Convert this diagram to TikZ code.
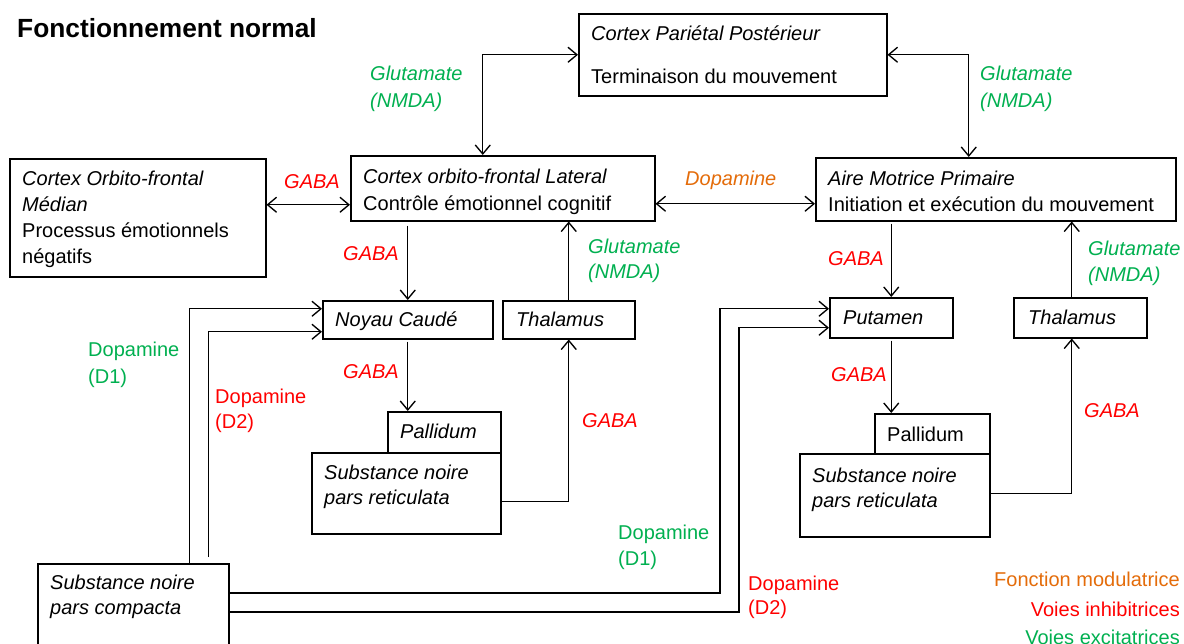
\documentclass[tikz,border=0pt]{standalone}
\usepackage{fontspec}
\setmainfont{Liberation Sans}
\usetikzlibrary{arrows.meta}
\definecolor{vgreen}{RGB}{0,176,80}
\definecolor{vred}{RGB}{255,0,0}
\definecolor{vorange}{RGB}{228,108,10}
\begin{document}
\begin{tikzpicture}[x=1pt,y=-1pt,
  box/.style={draw, line width=1.5pt, inner sep=0pt, anchor=north west},
  txt/.style={inner sep=0pt, anchor=base west, font=\fontsize{20}{24}\selectfont},
  itx/.style={txt, font=\fontsize{20}{24}\selectfont\itshape},
  gaba/.style={itx, text=vred},
  glu/.style={itx, text=vgreen},
  arr/.style={line width=1.35pt, -{Straight Barb[length=9pt,width=15pt,line width=1.35pt]}},
  bi/.style={line width=1.35pt, {Straight Barb[length=9pt,width=15pt,line width=1.35pt]}-{Straight Barb[length=9pt,width=15pt,line width=1.35pt]}}]
\useasboundingbox[fill=white] (0,0) rectangle (1184,643);

% title
\node[inner sep=0pt, anchor=base west, font=\fontsize{26.3}{30}\selectfont\bfseries] (title) at (17,37) {Fonctionnement normal};

% boxes
\node[box, minimum width=308pt, minimum height=82pt] (cpp) at (578,13) {};
\node[box, minimum width=256pt, minimum height=118pt] (cofm) at (9,158) {};
\node[box, minimum width=304pt, minimum height=65pt] (cofl) at (350,155) {};
\node[box, minimum width=360pt, minimum height=63pt] (amp) at (815,157) {};
\node[box, minimum width=170pt, minimum height=38pt] (noyau) at (322,300) {};
\node[box, minimum width=132pt, minimum height=38pt] (thalL) at (502,300) {};
\node[box, minimum width=113pt, minimum height=41pt] (pallL) at (387,411) {};
\node[box, minimum width=189pt, minimum height=81pt] (snrL) at (311,452) {};
\node[box, minimum width=191pt, minimum height=100pt] (snc) at (37,563) {};
\node[box, minimum width=123pt, minimum height=40pt] (putamen) at (829,297) {};
\node[box, minimum width=133pt, minimum height=40pt] (thalR) at (1013,297) {};
\node[box, minimum width=115pt, minimum height=40pt] (pallR) at (874,413) {};
\node[box, minimum width=190pt, minimum height=83pt] (snrR) at (799,453) {};

% box texts
\node[itx] (t-cpp1) at (591,40) {Cortex Pariétal Postérieur};
\node[txt] (t-cpp2) at (591,83) {Terminaison du mouvement};
\node[itx] (t-cofl1) at (363,183) {Cortex orbito-frontal Lateral};
\node[txt] (t-cofl2) at (363,210) {Contrôle émotionnel cognitif};
\node[itx] (t-cofm1) at (22,185) {Cortex Orbito-frontal};
\node[itx] (t-cofm2) at (22,211) {Médian};
\node[txt] (t-cofm3) at (22,237) {Processus émotionnels};
\node[txt] (t-cofm4) at (22,263) {négatifs};
\node[itx] (t-amp1) at (828,185) {Aire Motrice Primaire};
\node[txt] (t-amp2) at (828,211) {Initiation et exécution du mouvement};
\node[itx] (t-noyau) at (335,326) {Noyau Caudé};
\node[itx] (t-thalL) at (516,326) {Thalamus};
\node[itx] (t-pallL) at (400,438) {Pallidum};
\node[itx] (t-snrL1) at (324,479) {Substance noire};
\node[itx] (t-snrL2) at (324,504) {pars reticulata};
\node[itx] (t-snc1) at (50,589) {Substance noire};
\node[itx] (t-snc2) at (50,614) {pars compacta};
\node[itx] (t-put) at (843,324) {Putamen};
\node[itx] (t-thalR) at (1028,324) {Thalamus};
\node[txt] (t-pallR) at (887,441) {Pallidum};
\node[itx] (t-snrR1) at (812,482) {Substance noire};
\node[itx] (t-snrR2) at (812,507) {pars reticulata};

% helper coordinates
\path ([yshift=-16.5pt]cofl.west) coordinate (c3);
\path ([yshift=-15.5pt]cofl.east) coordinate (c4);
\path ([yshift=-8.5pt]snrL.east) coordinate (c8);
\path ([xshift=56.5pt]snc.north) coordinate (c9a);
\path ([yshift=11pt]noyau.west) coordinate (c9b);
\path ([xshift=75.5pt,yshift=6pt]snc.north) coordinate (c10a);
\path ([yshift=-12pt]noyau.west) coordinate (c10b);
\path ([yshift=-30pt]snc.north east) coordinate (c11a);
\path ([yshift=9pt]putamen.west) coordinate (c11b);
\path ([xshift=-109pt]c11b) coordinate (c11c);
\path ([yshift=-49pt]snc.north east) coordinate (c12a);
\path ([yshift=-10pt]putamen.west) coordinate (c12b);
\path ([xshift=-90pt]c12b) coordinate (c12c);
\path ([xshift=-8.5pt]thalR.north) coordinate (c14);
\path ([yshift=1.5pt]snrR.east) coordinate (c16);

% connectors
\draw[bi] (cpp.west) -| ([xshift=-20pt]cofl.north);
\draw[bi] (cpp.east) -| ([xshift=-27pt]amp.north);
\draw[bi] (c3) -- (c3 -| cofm.east);
\draw[bi] (c4) -- (c4 -| amp.west);
\draw[arr, shorten <=4pt] (cofl.south -| noyau.north) -- (noyau.north);
\draw[arr] (thalL.north) -- (thalL.north |- cofl.south);
\draw[arr, shorten <=2pt] (noyau.south) -- (noyau.south |- pallL.north);
\draw[arr] (c8) -| (thalL.south);
\draw[arr] (c9a) |- (c9b);
\draw[arr] (c10a) |- (c10b);
\draw[arr] (c11a) -| (c11c) -- (c11b);
\draw[arr] (c12a) -| (c12c) -- (c12b);
\draw[arr, shorten <=2pt] (amp.south -| putamen.north) -- (putamen.north);
\draw[arr] (c14) -- (c14 |- amp.south);
\draw[arr, shorten <=2pt] (putamen.south) -- (putamen.south |- pallR.north);
\draw[arr] (c16) -| ([xshift=-8.5pt]thalR.south);

% connector labels
\node[glu] (l1a) at (370,80) {Glutamate};
\node[glu] (l1b) at (370,107) {(NMDA)};
\node[glu] (l2a) at (980,80) {Glutamate};
\node[glu] (l2b) at (980,107) {(NMDA)};
\node[gaba] (l3) at (284,188) {GABA};
\node[itx, text=vorange] (l4) at (685,185) {Dopamine};
\node[gaba] (l5) at (343,260) {GABA};
\node[glu] (l6a) at (588,253) {Glutamate};
\node[glu] (l6b) at (588,278) {(NMDA)};
\node[gaba] (l7) at (343,378) {GABA};
\node[gaba] (l8) at (582,427) {GABA};
\node[txt, text=vgreen] (l9a) at (88,356) {Dopamine};
\node[txt, text=vgreen] (l9b) at (88,383) {(D1)};
\node[txt, text=vred] (l10a) at (215,403) {Dopamine};
\node[txt, text=vred] (l10b) at (215,428) {(D2)};
\node[gaba] (l13) at (828,265) {GABA};
\node[glu] (l14a) at (1088,255) {Glutamate};
\node[glu] (l14b) at (1088,281) {(NMDA)};
\node[gaba] (l15) at (831,381) {GABA};
\node[gaba] (l16) at (1084,417) {GABA};
\node[txt, text=vgreen] (l11a) at (618,539) {Dopamine};
\node[txt, text=vgreen] (l11b) at (618,565) {(D1)};
\node[txt, text=vred] (l12a) at (748,590) {Dopamine};
\node[txt, text=vred] (l12b) at (748,614) {(D2)};

% legend
\node[txt, anchor=base east, text=vorange] (lg1) at (1180,586) {Fonction modulatrice};
\node[txt, anchor=base east, text=vred] (lg2) at (1180,616) {Voies inhibitrices};
\node[txt, anchor=base east, text=vgreen] (lg3) at (1180,644) {Voies excitatrices};
\end{tikzpicture}
\end{document}
